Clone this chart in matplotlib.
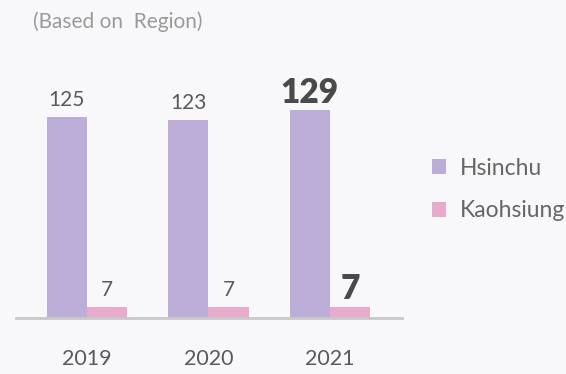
import numpy as np
import matplotlib.pyplot as plt

# Number of sites by region
years = ['2019', '2020', '2021']
hsinchu = [125, 123, 129]
kaohsiung = [7, 7, 7]
series_names = ['Hsinchu', 'Kaohsiung']

bg = '#f8f8fa'
purple = '#bdaed9'
pink = '#e8abcb'
text_grey = '#5a5a5a'

plt.rcParams['font.family'] = ['Lato', 'DejaVu Sans']

fig = plt.figure(figsize=(5.66, 3.74), dpi=100, facecolor=bg)
ax = fig.add_axes([16 / 566, 56 / 374, 386 / 566, 298 / 374])
ax.set_facecolor(bg)

x = np.arange(len(years))
w = 0.33
b1 = ax.bar(x - w / 2, hsinchu, w, color=purple, label=series_names[0])
b2 = ax.bar(x + w / 2, kaohsiung, w, color=pink, label=series_names[1])

ax.set_xlim(-0.584, 2.593)
ax.set_ylim(0, 185)

# value labels, latest year in bold
for i in range(len(years)):
    last = i == len(years) - 1
    for bars, vals in ((b1, hsinchu), (b2, kaohsiung)):
        r = bars[i]
        ax.annotate(str(vals[i]), (r.get_x() + r.get_width() / 2, r.get_height()),
                    xytext=(0, 5 if not last else 1), textcoords='offset points',
                    ha='center', va='bottom',
                    fontsize=24 if last else 15,
                    fontweight='heavy' if last else 'normal',
                    color='#4a4a4a' if last else text_grey)

for s in ['top', 'right', 'left']:
    ax.spines[s].set_visible(False)
ax.spines['bottom'].set_color('#c8c8c8')
ax.spines['bottom'].set_linewidth(2)
ax.set_yticks([])
ax.set_xticks(x)
ax.set_xticklabels(years, fontsize=15.5, color=text_grey)
ax.tick_params(axis='x', length=0, pad=22)

fig.text(33 / 566, 1 - 22 / 374, '(Based on  Region)', fontsize=15, color='#9a9a9a',
         va='center', ha='left')

leg = ax.legend(loc='upper left', bbox_to_anchor=(411 / 566, 1 - 137 / 374),
                bbox_transform=fig.transFigure, frameon=False, fontsize=16.5,
                handlelength=0.62, handleheight=0.62, handletextpad=0.6,
                labelspacing=0.95, labelcolor='#666666')

fig.savefig('out.png', dpi=100, facecolor=bg)
